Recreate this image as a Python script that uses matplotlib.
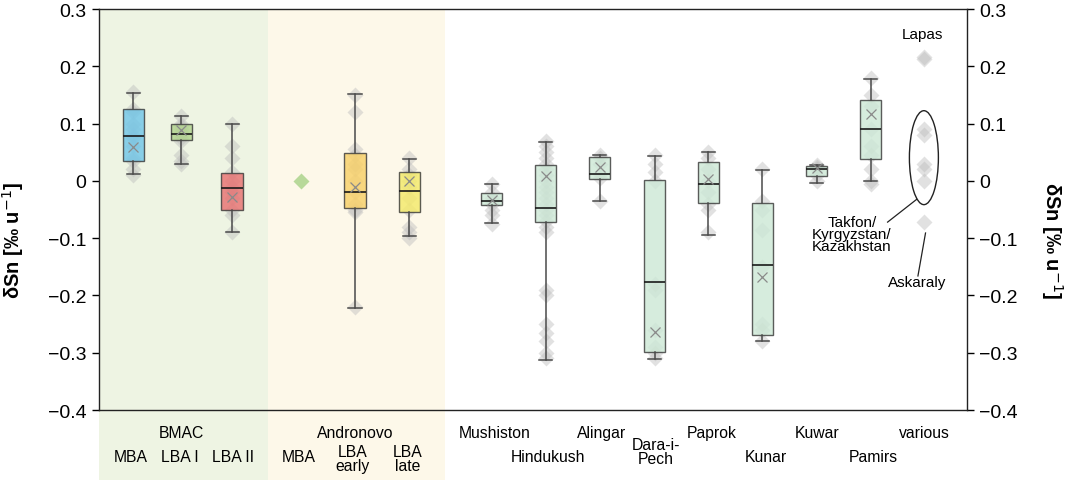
import numpy as np
import matplotlib
matplotlib.use("Agg")
import matplotlib.pyplot as plt
from matplotlib.patches import Ellipse, Rectangle
from matplotlib.transforms import blended_transform_factory

plt.rcParams['font.family'] = ['Liberation Sans', 'DejaVu Sans']

# box statistics (delta Sn, per mil per u)
groups = ['BMAC MBA', 'BMAC LBA I', 'BMAC LBA II', 'Andronovo LBA early', 'Andronovo LBA late',
          'Mushiston', 'Hindukush', 'Alingar', 'Dara-i-Pech', 'Paprok', 'Kunar', 'Kuwar', 'Pamirs']
whislo = [0.012, 0.029, -0.090, -0.222, -0.097, -0.074, -0.312, -0.035, -0.311, -0.094, -0.279, -0.003, 0.000]
q1 = [0.034, 0.071, -0.050, -0.047, -0.055, -0.043, -0.071, 0.003, -0.298, -0.039, -0.269, 0.008, 0.039]
med = [0.078, 0.082, -0.012, -0.019, -0.018, -0.035, -0.048, 0.012, -0.177, -0.005, -0.147, 0.021, 0.090]
q3 = [0.125, 0.100, 0.014, 0.049, 0.015, -0.022, 0.028, 0.041, 0.001, 0.033, -0.039, 0.026, 0.142]
whishi = [0.153, 0.114, 0.100, 0.151, 0.038, -0.005, 0.068, 0.046, 0.044, 0.050, 0.019, 0.028, 0.177]
means = [0.059, 0.089, -0.028, -0.010, 0.000, -0.033, 0.008, 0.024, -0.264, 0.003, -0.167, 0.022, 0.117]

points = [
    [0.155, 0.125, 0.12, 0.10, 0.09, 0.08, 0.075, 0.06, 0.04, 0.035, 0.02, 0.01],
    [0.114, 0.10, 0.095, 0.09, 0.085, 0.08, 0.075, 0.07, 0.045, 0.035, 0.03],
    [0.10, 0.06, 0.04, 0.015, 0.0, -0.01, -0.02, -0.03, -0.05, -0.06, -0.09],
    [0.15, 0.12, 0.055, 0.045, 0.03, 0.02, 0.0, -0.02, -0.04, -0.05, -0.055, -0.22],
    [0.04, 0.02, 0.01, 0.0, -0.01, -0.03, -0.05, -0.08, -0.09, -0.10],
    [-0.005, -0.02, -0.03, -0.035, -0.04, -0.05, -0.06, -0.075],
    [0.07, 0.06, 0.05, 0.04, 0.03, 0.02, 0.01, 0.0, -0.01, -0.02, -0.03, -0.04, -0.05, -0.06,
     -0.07, -0.08, -0.09, -0.19, -0.20, -0.25, -0.265, -0.28, -0.30, -0.31],
    [0.046, 0.04, 0.03, 0.012, 0.005, -0.035],
    [0.045, 0.03, 0.015, 0.0, -0.18, -0.19, -0.26, -0.29, -0.30, -0.31],
    [0.05, 0.04, 0.02, 0.0, -0.02, -0.04, -0.05, -0.09],
    [0.02, -0.035, -0.05, -0.085, -0.15, -0.25, -0.26, -0.28],
    [0.028, 0.025, 0.02, 0.01, 0.0],
    [0.18, 0.15, 0.13, 0.09, 0.06, 0.045, 0.02, 0.0, -0.005],
]
andronovo_mba = [0.0]
lapas = [0.213, 0.217]
takfon_kyrg_kaz = [0.09, 0.08, 0.03, 0.02, 0.0]
askaraly = [-0.071]

box_colors = ['#72c6e8', '#b2d48e', '#e87272', '#f8d068', '#f4ea6a'] + ['#cde8d6'] * 8

# x layout
box_pos = [0.64, 1.52, 2.46, 4.73, 5.73, 7.25, 8.25, 9.25, 10.26, 11.25, 12.25, 13.25, 14.25]
mba_pos = 3.73
various_pos = 15.23

fig = plt.figure(figsize=(10.65, 4.81), dpi=100)
ax = fig.add_axes([0.0927, 0.1455, 0.8150, 0.8337])
ax.set_xlim(0, 16.02)
ax.set_ylim(-0.4, 0.3)

trans = blended_transform_factory(ax.transData, ax.transAxes)
ax.add_patch(Rectangle((0.0, -0.18), 3.13, 1.18, transform=trans, clip_on=False,
                       facecolor='#eef4e3', edgecolor='none', zorder=0))
ax.add_patch(Rectangle((3.13, -0.18), 3.26, 1.18, transform=trans, clip_on=False,
                       facecolor='#fdf8e9', edgecolor='none', zorder=0))

stats = []
for i in range(len(groups)):
    stats.append(dict(label=groups[i], whislo=whislo[i], q1=q1[i], med=med[i], q3=q3[i],
                      whishi=whishi[i], mean=means[i], fliers=[]))

# gray data points
for p, vals in zip(box_pos, points):
    ax.plot([p] * len(vals), vals, 'D', ms=8, color='#bdbdbd', alpha=0.45, mec='none', zorder=2)
for vals in [lapas, takfon_kyrg_kaz, askaraly]:
    ax.plot([various_pos] * len(vals), vals, 'D', ms=8, color='#bdbdbd', alpha=0.45, mec='none', zorder=2)
ax.plot([mba_pos], andronovo_mba, 'D', ms=8.5, color='#b8d99a', mec='none', zorder=3)

bp = ax.bxp(stats, positions=box_pos, widths=0.39, patch_artist=True, showmeans=True,
            showfliers=False, manage_ticks=False,
            boxprops=dict(edgecolor='#3a3a3a', linewidth=1.0),
            whiskerprops=dict(color='#4a4a4a', linewidth=1.1),
            capprops=dict(color='#4a4a4a', linewidth=1.1),
            medianprops=dict(color='#1a1a1a', linewidth=1.2),
            meanprops=dict(marker='x', markeredgecolor='#8a8a8a', markersize=7, markeredgewidth=0.9))
for patch, c in zip(bp['boxes'], box_colors):
    patch.set_facecolor(c)
    patch.set_alpha(0.82)
    patch.set_edgecolor('#3a3a3a')
for m in bp['means']:
    m.set_zorder(5)
for m in bp['medians']:
    m.set_zorder(5)
for cap in bp['caps']:
    x = cap.get_xdata()
    c = (x[0] + x[1]) / 2
    cap.set_xdata([c - 0.12, c + 0.12])

# annotations for the 'various' column
ax.add_patch(Ellipse((various_pos, 0.0405), 0.535, 0.164, fill=False, edgecolor='#222222', linewidth=1.0))
ax.plot([15.10, 14.56], [-0.032, -0.072], color='#222222', lw=0.9)
ax.plot([15.26, 15.12], [-0.091, -0.166], color='#222222', lw=0.9)
ax.text(15.21, 0.256, 'Lapas', ha='center', va='center', fontsize=11)
ax.text(15.10, -0.177, 'Askaraly', ha='center', va='center', fontsize=11)
ax.text(13.90, -0.093, 'Takfon/\nKyrgyzstan/\nKazakhstan', ha='center', va='center',
        fontsize=11, linespacing=0.85)

# category labels under the axis
top_row = [(1.52, 'BMAC'), (4.73, 'Andronovo'), (7.30, 'Mushiston'), (9.29, 'Alingar'),
           (11.31, 'Paprok'), (13.26, 'Kuwar'), (15.24, 'various')]
bottom_row = [(0.60, 'MBA'), (1.49, 'LBA I'), (2.48, 'LBA II'), (3.69, 'MBA'),
              (4.69, 'LBA\nearly'), (5.71, 'LBA\nlate'), (8.29, 'Hindukush'),
              (10.28, 'Dara-i-\nPech'), (12.31, 'Kunar'), (14.30, 'Pamirs')]
for x, t in top_row:
    ax.text(x, -0.0555, t, transform=trans, ha='center', va='center', fontsize=11.3)
for x, t in bottom_row:
    yy = -0.116
    if '\n' in t:
        yy = -0.121 if t.startswith('LBA') else -0.104
    ax.text(x, yy, t, transform=trans, ha='center', va='center', fontsize=11.3, linespacing=0.9)

yt = [-0.4, -0.3, -0.2, -0.1, 0.0, 0.1, 0.2, 0.3]
ytl = ['\u22120.4', '\u22120.3', '\u22120.2', '\u22120.1', '0', '0.1', '0.2', '0.3']
ax.set_yticks(yt)
ax.set_yticklabels(ytl)
ax.set_xticks([])
ax.tick_params(axis='y', which='both', direction='out', length=5, width=1, labelsize=14,
               left=True, right=True, labelleft=True, labelright=True, pad=4)
for s in ax.spines.values():
    s.set_linewidth(1.0)
    s.set_color('#222222')

fig.text(0.0125, 0.5, 'δSn [‰ u$^{-1}$]', rotation=90, ha='center', va='center',
         fontsize=14.5, fontweight='bold')
fig.text(0.9875, 0.5, 'δSn [‰ u$^{-1}$]', rotation=270, ha='center', va='center',
         fontsize=14.5, fontweight='bold')

fig.savefig('out.png', dpi=100)
